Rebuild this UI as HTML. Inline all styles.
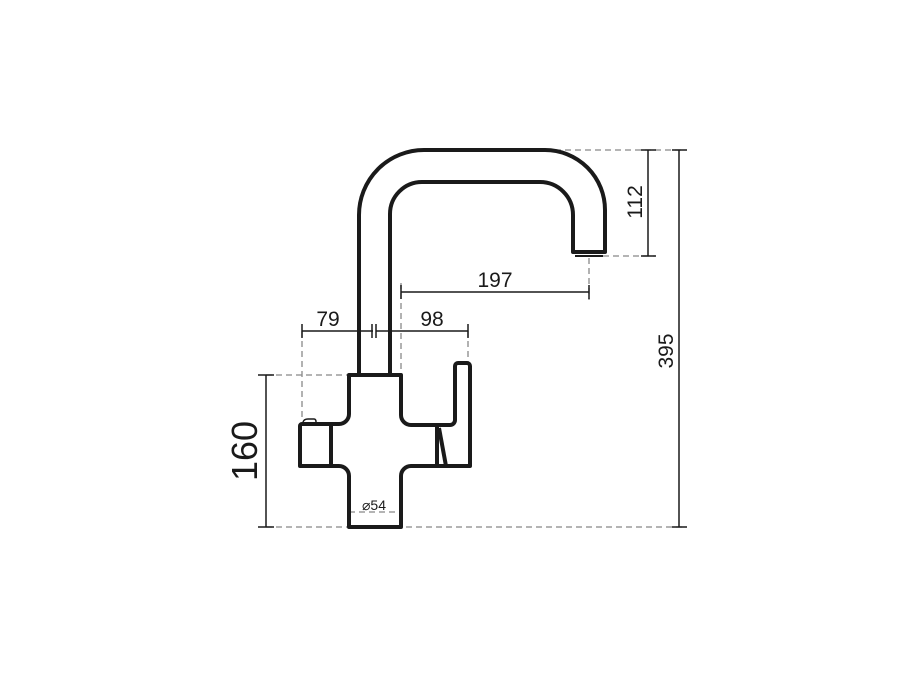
<!DOCTYPE html>
<html><head><style>body{margin:0;background:#fff}svg{display:block}</style></head>
<body>
<svg width="900" height="679" viewBox="0 0 900 679" xmlns="http://www.w3.org/2000/svg" font-family="Liberation Sans, sans-serif">
<g fill="none" stroke="#888" stroke-width="1.3" stroke-dasharray="6,4">
<line x1="545" y1="150" x2="683" y2="150"/>
<line x1="603" y1="256" x2="655" y2="256"/>
<line x1="589" y1="258" x2="589" y2="300"/>
<line x1="401" y1="283" x2="401" y2="375"/>
<line x1="302" y1="331" x2="302" y2="420"/>
<line x1="468" y1="331" x2="468" y2="362"/>
<line x1="266" y1="375" x2="349" y2="375"/>
<line x1="266" y1="527" x2="683" y2="527"/>
<line x1="349" y1="512" x2="401" y2="512"/>
</g>
<g fill="none" stroke="#1a1a1a" stroke-width="1.5">
<line x1="648" y1="150" x2="648" y2="256"/><line x1="641" y1="150" x2="656" y2="150"/><line x1="641" y1="256" x2="656" y2="256"/>
<line x1="679" y1="150" x2="679" y2="527"/><line x1="672" y1="150" x2="687" y2="150"/><line x1="672" y1="527" x2="687" y2="527"/>
<line x1="266" y1="375" x2="266" y2="527"/><line x1="258" y1="375" x2="274" y2="375"/><line x1="258" y1="527" x2="274" y2="527"/>
<line x1="401" y1="292" x2="589" y2="292"/><line x1="401" y1="285" x2="401" y2="299"/><line x1="589" y1="285" x2="589" y2="299"/>
<line x1="302" y1="331" x2="373" y2="331"/><line x1="376" y1="331" x2="468" y2="331"/>
<line x1="302" y1="324" x2="302" y2="338"/><line x1="468" y1="324" x2="468" y2="338"/>
<line x1="372" y1="324" x2="372" y2="338"/><line x1="376" y1="324" x2="376" y2="338"/>
</g>
<g fill="none" stroke="#1a1a1a" stroke-width="4" stroke-linejoin="round">
<path d="M359 375 V215 A65 65 0 0 1 424 150 H545 A60 60 0 0 1 605 210 V252 H573 V215 A33 33 0 0 0 540 182 H422 A32 32 0 0 0 390 214 V375"/>
<path d="M349 375 H401 V415 A10 10 0 0 0 411 425 H450 A5 5 0 0 0 455 420 V366 A3 3 0 0 1 458 363 H467 A3 3 0 0 1 470 366 V466 H411 A10 10 0 0 0 401 476 V527 H349 V476 A10 10 0 0 0 339 466 H300 V426 A2 2 0 0 1 302 424 H339 A10 10 0 0 0 349 414 Z"/>
<line x1="331" y1="424" x2="331" y2="466"/>
<line x1="437" y1="424" x2="437" y2="466"/>
<line x1="439" y1="428" x2="446" y2="466"/>
</g>
<path d="M303 422 Q304 419 308 419 H314 Q316 419 316 422" fill="none" stroke="#1a1a1a" stroke-width="1.5"/>
<line x1="575" y1="256" x2="603" y2="256" stroke="#1a1a1a" stroke-width="2"/>
<g fill="#1a1a1a">
<text x="495" y="287" font-size="21" text-anchor="middle">197</text>
<text x="328" y="326" font-size="21" text-anchor="middle">79</text>
<text x="432" y="326" font-size="21" text-anchor="middle">98</text>
<text x="374" y="510" font-size="14" text-anchor="middle">⌀54</text>
<text transform="translate(642,202) rotate(-90)" font-size="21" text-anchor="middle">112</text>
<text transform="translate(673,351) rotate(-90)" font-size="21" text-anchor="middle">395</text>
<text transform="translate(257,451) rotate(-90)" font-size="36" text-anchor="middle">160</text>
</g>
</svg>
</body></html>
